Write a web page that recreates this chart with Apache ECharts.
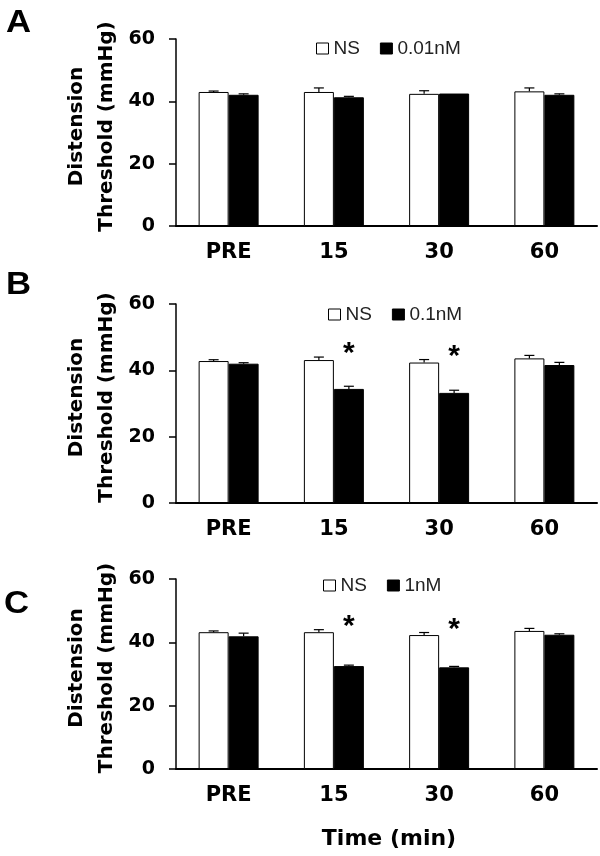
<!DOCTYPE html>
<html>
<head>
<meta charset="utf-8">
<script src="https://cdn.jsdelivr.net/npm/echarts@6/dist/echarts.min.js"></script>
<style>
html,body{margin:0;padding:0;background:#fff;}
#chart{width:600px;height:856px;}
</style>
</head>
<body>
<div id="chart"></div>
<script>
// ---- data ----
var categories = ['PRE', '15', '30', '60'];
var yTicks = [0, 20, 40, 60];
var panelLetters = ['A', 'B', 'C'];
var doseNames = ['0.01nM', '0.1nM', '1nM'];

var nsA = [43.0, 43.0, 42.4, 43.2];
var nsAErr = [0.3, 1.3, 1.0, 1.1];
var doseA = [42.1, 41.3, 42.5, 42.1];
var doseAErr = [0.3, 0.3, 0.0, 0.3];
var sigA = [0, 0, 0, 0];

var nsB = [42.8, 43.1, 42.35, 43.6];
var nsBErr = [0.4, 0.9, 0.9, 0.9];
var doseB = [42.0, 34.4, 33.2, 41.6];
var doseBErr = [0.3, 0.8, 0.8, 0.8];
var sigB = [0, 1, 1, 0];

var nsC = [43.2, 43.2, 42.3, 43.6];
var nsCErr = [0.4, 0.8, 0.8, 0.8];
var doseC = [41.9, 32.5, 32.1, 42.4];
var doseCErr = [1.0, 0.3, 0.3, 0.3];
var sigC = [0, 1, 1, 0];

// ---- layout ----
var CAT_GAP = 0.43;
var grids = [
  {left: 176, top: 39, width: 421, height: 187},
  {left: 176, top: 304, width: 421, height: 199},
  {left: 176, top: 579, width: 421, height: 190}
];
var legendPos = [{left: 316, top: 39}, {left: 328, top: 305}, {left: 323, top: 576}];
var letterPos = [{x: 6, y: 8}, {x: 6, y: 270}, {x: 4, y: 589}];

var panels = [
  {ns: nsA, nsErr: nsAErr, dose: doseA, doseErr: doseAErr, sig: sigA},
  {ns: nsB, nsErr: nsBErr, dose: doseB, doseErr: doseBErr, sig: sigB},
  {ns: nsC, nsErr: nsCErr, dose: doseC, doseErr: doseCErr, sig: sigC}
];

var tickFont = 'DejaVu Sans';

function errRender(side) {
  return function (params, api) {
    var idx = api.value(0), v = api.value(1), e = api.value(2);
    if (!(e > 0)) return null;
    var band = api.size([1, 0])[0];
    var off = side * band * (1 - CAT_GAP) / 4;
    var p0 = api.coord([idx, v]);
    var p1 = api.coord([idx, v + e]);
    var x = p0[0] + off;
    var hw = 5;
    return {
      type: 'group',
      children: [
        {type: 'line', shape: {x1: x, y1: p0[1], x2: x, y2: p1[1]}, style: {stroke: '#000', lineWidth: 1.2}},
        {type: 'line', shape: {x1: x - hw, y1: p1[1], x2: x + hw, y2: p1[1]}, style: {stroke: '#000', lineWidth: 1.2}}
      ]
    };
  };
}

function sigRender(params, api) {
  var idx = api.value(0), top = api.value(1);
  var band = api.size([1, 0])[0];
  var off = band * (1 - CAT_GAP) / 4;
  var p = api.coord([idx, top]);
  return {
    type: 'text',
    x: p[0] + off,
    y: p[1] - 3,
    style: {
      text: '*',
      font: 'bold 30px Liberation Sans',
      fill: '#000',
      textAlign: 'center',
      textVerticalAlign: 'middle'
    }
  };
}

var option = {
  animation: false,
  backgroundColor: '#fff',
  grid: grids,
  legend: [],
  xAxis: [],
  yAxis: [],
  series: [],
  graphic: []
};

panels.forEach(function (pn, i) {
  option.xAxis.push({
    type: 'category',
    gridIndex: i,
    data: categories,
    axisLine: {lineStyle: {color: '#000', width: 2}},
    axisTick: {show: false},
    axisLabel: {color: '#000', fontFamily: tickFont, fontWeight: 'bold', fontSize: 21, margin: 16}
  });
  option.yAxis.push({
    type: 'value',
    gridIndex: i,
    min: yTicks[0],
    max: yTicks[yTicks.length - 1],
    interval: yTicks[1] - yTicks[0],
    splitLine: {show: false},
    axisLine: {show: true, lineStyle: {color: '#000', width: 1.5}},
    axisTick: {show: true, length: 7, lineStyle: {color: '#000', width: 1.5}},
    axisLabel: {color: '#000', fontFamily: tickFont, fontWeight: 'bold', fontSize: 19, margin: 21}
  });
  option.series.push({
    name: 'NS',
    type: 'bar',
    xAxisIndex: i, yAxisIndex: i,
    data: pn.ns,
    barGap: '0%',
    barCategoryGap: (CAT_GAP * 100) + '%',
    itemStyle: {color: '#fff', borderColor: '#000', borderWidth: 1}
  });
  option.series.push({
    name: doseNames[i],
    type: 'bar',
    xAxisIndex: i, yAxisIndex: i,
    data: pn.dose,
    barGap: '0%',
    barCategoryGap: (CAT_GAP * 100) + '%',
    itemStyle: {color: '#000', borderColor: '#000', borderWidth: 1}
  });
  option.series.push({
    type: 'custom',
    xAxisIndex: i, yAxisIndex: i,
    renderItem: errRender(-1),
    data: pn.ns.map(function (v, k) { return [k, v, pn.nsErr[k]]; }),
    z: 5, silent: true, clip: false
  });
  option.series.push({
    type: 'custom',
    xAxisIndex: i, yAxisIndex: i,
    renderItem: errRender(1),
    data: pn.dose.map(function (v, k) { return [k, v, pn.doseErr[k]]; }),
    z: 5, silent: true, clip: false
  });
  var sigData = [];
  pn.sig.forEach(function (s, k) {
    if (s) sigData.push([k, pn.ns[k] + pn.nsErr[k]]);
  });
  if (sigData.length) {
    option.series.push({
      type: 'custom',
      xAxisIndex: i, yAxisIndex: i,
      renderItem: sigRender,
      data: sigData,
      z: 6, silent: true, clip: false
    });
  }
  option.legend.push({
    left: legendPos[i].left,
    top: legendPos[i].top,
    padding: 0,
    itemWidth: 12,
    itemHeight: 11,
    itemGap: 20,
    icon: 'rect',
    selectedMode: false,
    textStyle: {color: '#222', fontFamily: 'Liberation Sans', fontSize: 19},
    data: [
      {name: 'NS', itemStyle: {color: '#fff', borderColor: '#000', borderWidth: 1}},
      {name: doseNames[i], itemStyle: {color: '#000', borderColor: '#000', borderWidth: 1}}
    ]
  });
  var g = grids[i];
  option.graphic.push({
    type: 'text',
    x: 92,
    y: g.top + g.height / 2 - 6,
    rotation: Math.PI / 2,
    style: {
      text: 'Distension\nThreshold (mmHg)',
      font: 'bold 20px DejaVu Sans',
      lineHeight: 30,
      fill: '#000',
      textAlign: 'center',
      textVerticalAlign: 'middle'
    }
  });
  option.graphic.push({
    type: 'text',
    x: letterPos[i].x,
    y: letterPos[i].y,
    scaleX: 1.12,
    style: {
      text: panelLetters[i],
      font: 'bold 31px Liberation Sans',
      fill: '#000',
      textAlign: 'left',
      textVerticalAlign: 'top'
    }
  });
});

option.graphic.push({
  type: 'text',
  x: 389,
  y: 839,
  style: {
    text: 'Time (min)',
    font: 'bold 22px DejaVu Sans',
    fill: '#000',
    textAlign: 'center',
    textVerticalAlign: 'middle'
  }
});

var chart = echarts.init(document.getElementById('chart'), null, {renderer: 'canvas'});
chart.setOption(option);
</script>
</body>
</html>
